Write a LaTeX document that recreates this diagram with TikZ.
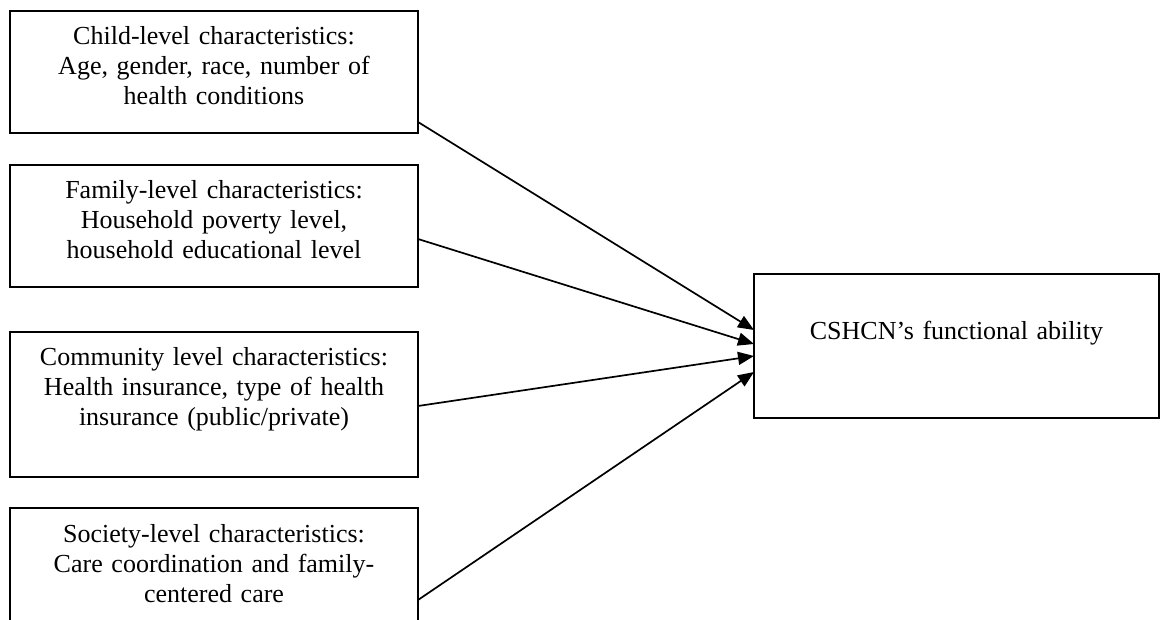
\documentclass[tikz,border=0pt]{standalone}
\usepackage{fontspec}
\setmainfont{Liberation Serif}
\usepackage{tikz}
\usetikzlibrary{positioning, calc, arrows.meta}
\tikzset{>={Triangle[length=16pt,width=13pt]}}
\tikzset{
  factor/.style={draw, line width=1.8pt, outer sep=0pt, anchor=north west,
    minimum width=408pt, text width=380pt, inner xsep=14pt, inner ysep=16pt,
    align=center, text height=18pt}
}

\begin{document}
\begin{tikzpicture}[x=1pt, y=1pt, font=\fontsize{26}{30}\selectfont]
    \useasboundingbox (0,0) rectangle (1160,-620);
    \clip (0,0) rectangle (1160,-620);

    \node[factor, text depth=72pt] (child) at (10,-11) {
      Child-level characteristics:\\
      Age, gender, race, number of\\
      health conditions
    };
    \node[factor, text depth=72pt, below=32pt of child] (family) {
      Family-level characteristics:\\
      Household poverty level,\\
      household educational level
    };
    \node[factor, text depth=95pt, below=45pt of family] (community) {
      Community level characteristics:\\
      Health insurance, type of health\\
      insurance (public/private)
    };
    \node[factor, text depth=100pt, below=31pt of community] (society) {
      Society-level characteristics:\\
      Care coordination and family-\\
      centered care
    };

    \node[factor, minimum width=405pt, text width=377pt,
      text height=50pt, text depth=62pt] (ability) at (754,-274) {
      CSHCN’s functional ability
    };

    \path [->, line width=1.7pt]
    ([yshift=11pt]child.south east) edge ([yshift=-56pt]ability.north west)
    ([yshift=-74pt]family.north east) edge ([yshift=-70pt]ability.north west)
    ([yshift=-74pt]community.north east) edge ([yshift=-82pt]ability.north west)
    ([yshift=-92pt]society.north east) edge ([yshift=-98pt]ability.north west);
  \end{tikzpicture}
\end{document}
